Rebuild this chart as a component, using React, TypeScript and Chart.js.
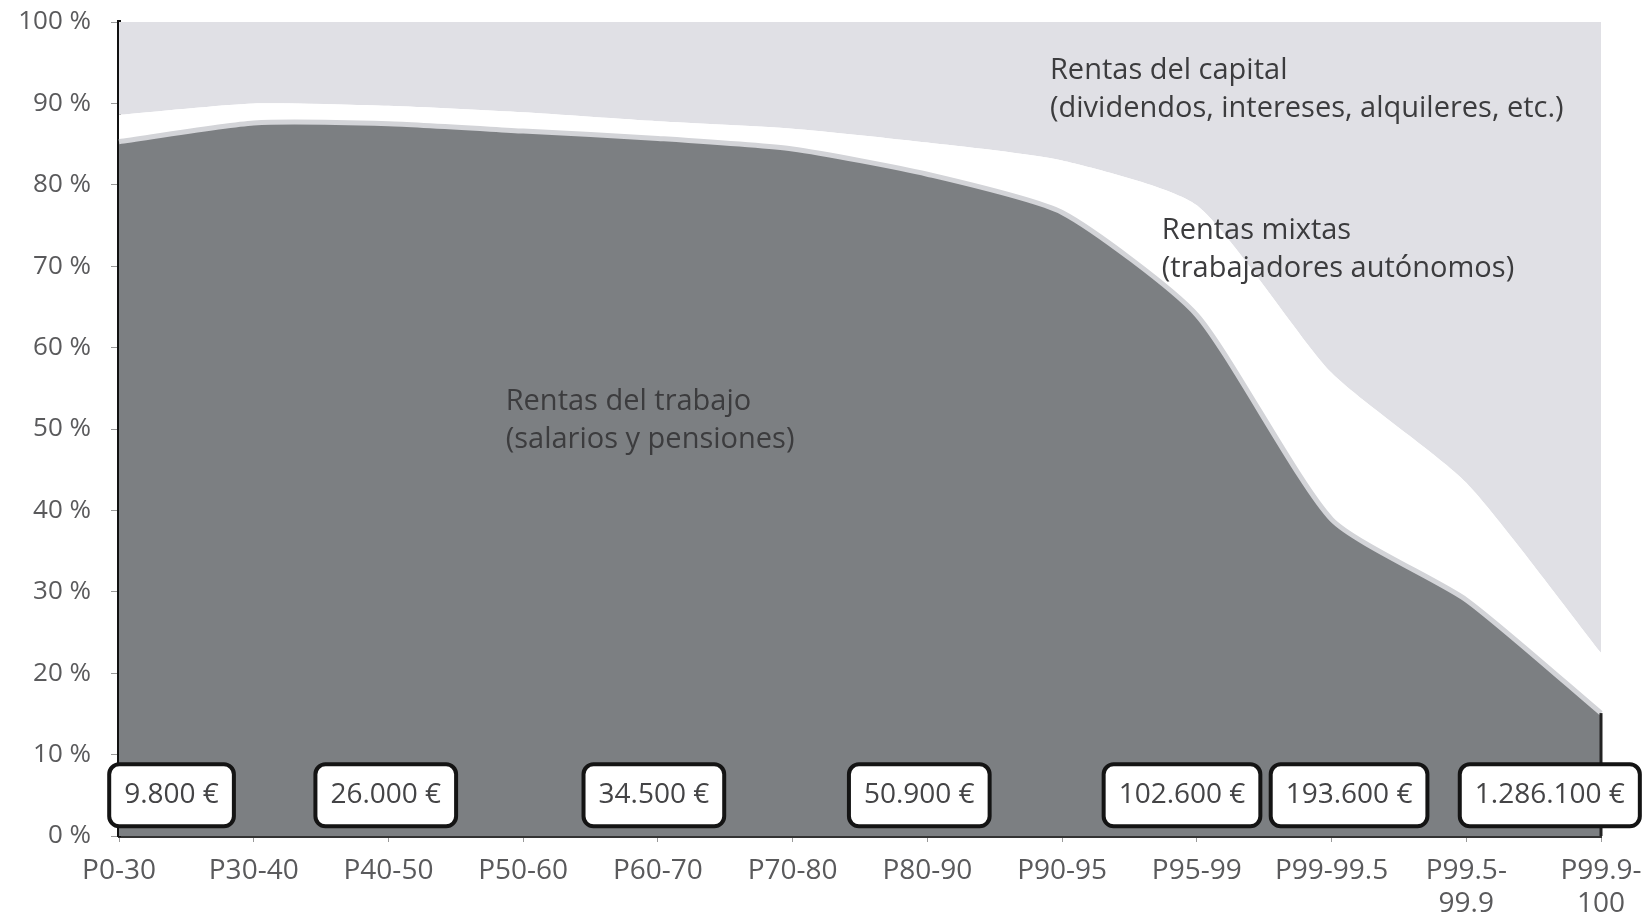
import { useEffect, useRef } from 'react';
import { Chart, registerables } from 'chart.js';

Chart.register(...registerables);

const categories: string[][] = [
  ['P0-30'], ['P30-40'], ['P40-50'], ['P50-60'], ['P60-70'], ['P70-80'],
  ['P80-90'], ['P90-95'], ['P95-99'], ['P99-99.5'], ['P99.5-', '99.9'], ['P99.9-', '100'],
];
const laborShare = [85.3, 87.6, 87.5, 86.6, 85.7, 84.4, 81.3, 76.6, 64.0, 38.9, 29.0, 15.1];
const mixedShare = [3.3, 2.4, 2.2, 2.3, 2.1, 2.5, 3.9, 6.4, 13.5, 18.0, 14.4, 7.4];
const capitalShare = [11.4, 10.0, 10.3, 11.1, 12.2, 13.1, 14.8, 17.0, 22.5, 43.1, 56.6, 77.5];
const yTicks = [0, 10, 20, 30, 40, 50, 60, 70, 80, 90, 100];

const incomeLabels = ['9.800 €', '26.000 €', '34.500 €', '50.900 €', '102.600 €', '193.600 €', '1.286.100 €'];
const incomeLabelAt = [0.39, 1.98, 3.97, 5.94, 7.89, 9.13, 10.62];
const incomeLabelY = 5;

const areaLabels = [
  { lines: ['Rentas del capital', '(dividendos, intereses, alquileres, etc.)'], x: 6.91, y: 94.0 },
  { lines: ['Rentas mixtas', '(trabajadores autónomos)'], x: 7.74, y: 74.3 },
  { lines: ['Rentas del trabajo', '(salarios y pensiones)'], x: 2.87, y: 53.3 },
];

const FONT = '"Open Sans", "Noto Sans", sans-serif';

const annotationPlugin = {
  id: 'annotations',
  afterDatasetsDraw(chart: any) {
    const { ctx, scales } = chart;
    const xs = scales.x;
    const ys = scales.y;
    ctx.save();
    const meta = chart.getDatasetMeta(0);
    const last = meta.data[meta.data.length - 1];
    if (last) {
      ctx.beginPath();
      ctx.strokeStyle = '#222';
      ctx.lineWidth = 3;
      ctx.moveTo(last.x, last.y);
      ctx.lineTo(last.x, ys.getPixelForValue(0));
      ctx.stroke();
    }
    ctx.font = `29px ${FONT}`;
    ctx.fillStyle = '#3c3c3e';
    ctx.textAlign = 'left';
    ctx.textBaseline = 'middle';
    areaLabels.forEach((a) => {
      const px = xs.getPixelForValue(a.x);
      const py = ys.getPixelForValue(a.y);
      a.lines.forEach((l, i) => ctx.fillText(l, px, py + i * 38));
    });
    ctx.font = `28px ${FONT}`;
    incomeLabels.forEach((t, i) => {
      const cx = xs.getPixelForValue(incomeLabelAt[i]);
      const cy = ys.getPixelForValue(incomeLabelY);
      const w = ctx.measureText(t).width + 30;
      const h = 62;
      ctx.beginPath();
      ctx.roundRect(cx - w / 2, cy - h / 2, w, h, 10);
      ctx.fillStyle = '#ffffff';
      ctx.fill();
      ctx.lineWidth = 4;
      ctx.strokeStyle = '#141414';
      ctx.stroke();
      ctx.fillStyle = '#444446';
      ctx.textAlign = 'center';
      ctx.fillText(t, cx, cy);
    });
    ctx.restore();
  },
};

export default function App() {
  const ref = useRef<HTMLCanvasElement>(null);
  useEffect(() => {
    if (!ref.current) return;
    const chart = new Chart(ref.current, {
      type: 'line',
      data: {
        labels: categories as any,
        datasets: [
          {
            label: 'Rentas del trabajo',
            data: laborShare,
            backgroundColor: '#7c7f82',
            borderColor: '#d3d4d8',
            borderWidth: 5,
            fill: 'origin',
            pointRadius: 0,
            tension: 0.2,
          },
          {
            label: 'Rentas mixtas',
            data: mixedShare,
            backgroundColor: '#ffffff',
            borderColor: '#ffffff',
            borderWidth: 0,
            fill: '-1',
            pointRadius: 0,
            tension: 0.2,
          },
          {
            label: 'Rentas del capital',
            data: capitalShare,
            backgroundColor: '#e0e0e5',
            borderColor: '#e0e0e5',
            borderWidth: 0,
            fill: '-1',
            pointRadius: 0,
            tension: 0,
          },
        ],
      },
      options: {
        animation: false,
        responsive: true,
        maintainAspectRatio: false,
        layout: { padding: { top: 22, right: 46, left: 0, bottom: 0 } },
        plugins: { legend: { display: false }, tooltip: { enabled: false } },
        scales: {
          x: {
            type: 'category',
            offset: false,
            grid: { drawOnChartArea: false, drawTicks: true, tickLength: 6, color: '#999' },
            border: { display: true, color: '#333', width: 3 },
            ticks: {
              autoSkip: false,
              maxRotation: 0,
              padding: 12,
              color: '#5a5a5c',
              font: { family: FONT, size: 28, lineHeight: 1.2 },
            },
            afterFit: (s: any) => {
              s.height = 84;
              s.paddingLeft = 0;
              s.paddingRight = 0;
            },
          },
          y: {
            stacked: true,
            min: 0,
            max: 100,
            afterBuildTicks: (s: any) => { s.ticks = yTicks.map((v) => ({ value: v })); },
            grid: { drawOnChartArea: false, drawTicks: true, tickLength: 8, color: '#999' },
            border: { display: true, color: '#111', width: 4 },
            ticks: {
              padding: 20,
              color: '#5a5a5c',
              font: { family: FONT, size: 26 },
              callback: (v: any) => `${v} %`,
            },
            afterFit: (s: any) => {
              s.width = 119;
              s.paddingTop = 0;
              s.paddingBottom = 0;
            },
          },
        },
      },
      plugins: [annotationPlugin],
    });
    return () => chart.destroy();
  }, []);
  return (
    <div style={{ position: 'absolute', left: 0, top: 0, width: 1647, height: 920, background: '#fff' }}>
      <canvas ref={ref} />
    </div>
  );
}
